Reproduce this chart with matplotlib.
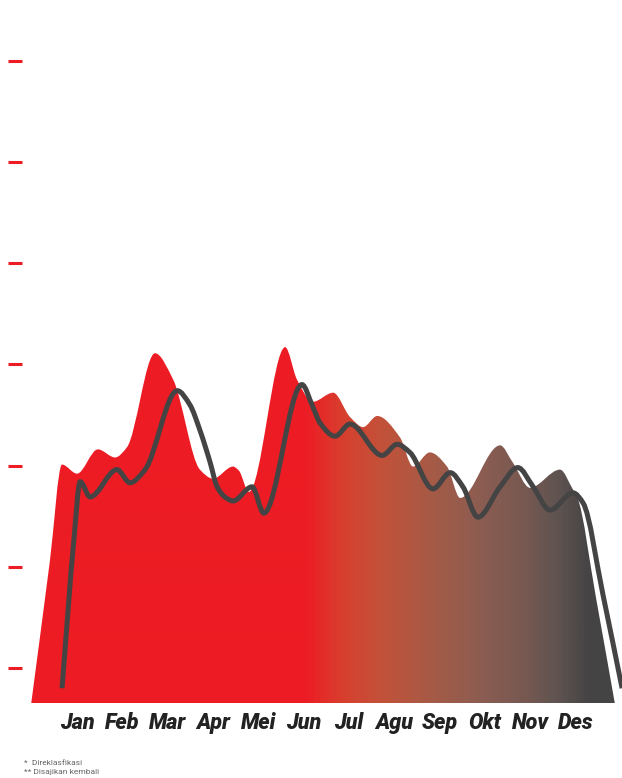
import numpy as np
import matplotlib
matplotlib.use("Agg")
import matplotlib.pyplot as plt
from matplotlib.path import Path
from matplotlib.patches import PathPatch
from matplotlib.colors import LinearSegmentedColormap


# month labels, x position = month index (Jan = 0)
months = ["Jan", "Feb", "Mar", "Apr", "Mei", "Jun", "Jul", "Agu", "Sep", "Okt", "Nov", "Des"]

# area series (x in months, value)
area_x = [-1.01, -0.6, -0.33, 0.0, 0.46, 0.84, 1.10, 1.72, 2.12, 2.71, 3.00, 3.44, 3.57,
          3.79, 4.59, 4.85, 5.20, 5.65, 6.02, 6.31, 6.62, 7.12, 7.41, 7.78, 8.16, 8.45,
          9.33, 9.61, 9.99, 10.65, 10.94, 11.03, 11.45, 11.86]
area_y = [-3.5, 10.5, 20.1, 19.2, 21.6, 20.8, 21.8, 31.1, 28.5, 19.6, 18.7, 19.9, 19.5,
          17.4, 31.7, 28.5, 26.3, 27.2, 24.8, 23.8, 24.9, 22.8, 19.9, 21.3, 19.9, 16.8,
          22.0, 20.3, 17.8, 19.6, 17.6, 16.9, 6.8, -3.5]

# line series
line_x = [-0.33, -0.07, 0.07, 0.29, 0.88, 1.17, 1.50, 2.21, 2.49, 2.71, 2.93, 3.09, 3.26,
          3.44, 3.86, 4.12, 4.96, 5.20, 5.36, 5.69, 6.02, 6.73, 7.06, 7.34, 7.85, 8.23,
          8.51, 8.84, 9.33, 9.72, 10.06, 10.43, 10.94, 11.16, 11.60, 12.02]
line_y = [-2.0, 12.6, 18.4, 16.9, 19.6, 18.3, 19.6, 27.4, 26.0, 23.5, 20.4, 17.9, 16.9,
          16.5, 17.9, 15.3, 28.0, 25.8, 24.2, 22.9, 24.1, 21.0, 22.1, 21.3, 17.7, 19.3,
          17.9, 14.9, 17.9, 19.8, 17.9, 15.6, 17.3, 16.3, 7.2, -2.0]

y_ticks = [0, 10, 20, 30, 40, 50, 60]

RED = "#ED1C24"
DARK = "#444444"


def pchip_slopes(x, y):
    """monotone cubic (Fritsch-Carlson) tangents"""
    x = np.asarray(x, float)
    y = np.asarray(y, float)
    h = np.diff(x)
    d = np.diff(y) / h
    m = np.zeros_like(y)
    for k in range(1, len(x) - 1):
        if d[k - 1] * d[k] <= 0:
            m[k] = 0
        else:
            w1 = 2 * h[k] + h[k - 1]
            w2 = h[k] + 2 * h[k - 1]
            m[k] = (w1 + w2) / (w1 / d[k - 1] + w2 / d[k])
    m[0] = d[0]
    m[-1] = d[-1]
    return m


def smooth_path(x, y, close_to=None):
    """bezier path through the points"""
    m = pchip_slopes(x, y)
    verts = [(x[0], y[0])]
    codes = [Path.MOVETO]
    for k in range(len(x) - 1):
        h = x[k + 1] - x[k]
        verts += [(x[k] + h / 3, y[k] + m[k] * h / 3),
                  (x[k + 1] - h / 3, y[k + 1] - m[k + 1] * h / 3),
                  (x[k + 1], y[k + 1])]
        codes += [Path.CURVE4] * 3
    if close_to is not None:
        verts += [(x[-1], close_to), (x[0], close_to), (x[0], y[0])]
        codes += [Path.LINETO, Path.LINETO, Path.CLOSEPOLY]
    return Path(verts, codes)


fig = plt.figure(figsize=(6.22, 7.78), dpi=100)
ax = fig.add_axes([22 / 622, 75 / 778, 600 / 622, 703 / 778])
x_left, x_right = -1.213, 12.018
y_bot, y_top = -3.46, 66.0
ax.set_xlim(x_left, x_right)
ax.set_ylim(y_bot, y_top)

# gradient filled area
patch = PathPatch(smooth_path(area_x, area_y, close_to=y_bot), facecolor="none", edgecolor="none")
ax.add_patch(patch)
px_stops = [22, 305, 345, 380, 430, 480, 530, 560, 590, 622]
col_stops = [RED, RED, "#D6402F", "#C45139", "#A75A46", "#8D5D51", "#745852", "#5E5350", "#464445", DARK]
cmap = LinearSegmentedColormap.from_list(
    "grad", [((p - 22) / 600, c) for p, c in zip(px_stops, col_stops)])
grad = np.linspace(0, 1, 600).reshape(1, -1)
im = ax.imshow(grad, cmap=cmap, aspect="auto", extent=[x_left, x_right, y_bot, y_top],
               interpolation="bilinear", zorder=1)
im.set_clip_path(patch)

# line
ax.add_patch(PathPatch(smooth_path(line_x, line_y), facecolor="none", edgecolor=DARK,
                       linewidth=3.6, capstyle="butt", zorder=3))

for s in ax.spines.values():
    s.set_visible(False)
ax.set_yticks(y_ticks)
ax.tick_params(axis="y", direction="out", length=10, width=2.2, color=RED, labelleft=False)
ax.set_xticks([])
for k, name in enumerate(months):
    ax.text(k, -26 / 703, name, transform=ax.get_xaxis_transform(), ha="center", va="baseline",
            fontsize=15.5, fontweight="black", fontstyle="italic", family="Roboto", color="#222222")

fig.text(24 / 622, 1 - 765 / 778, "*  Direklasfikasi", fontsize=6, family="Roboto",
         color="#666666", va="baseline")
fig.text(24 / 622, 1 - 774 / 778, "** Disajikan kembali", fontsize=6, family="Roboto",
         color="#666666", va="baseline")

fig.savefig("out.png", dpi=100)
